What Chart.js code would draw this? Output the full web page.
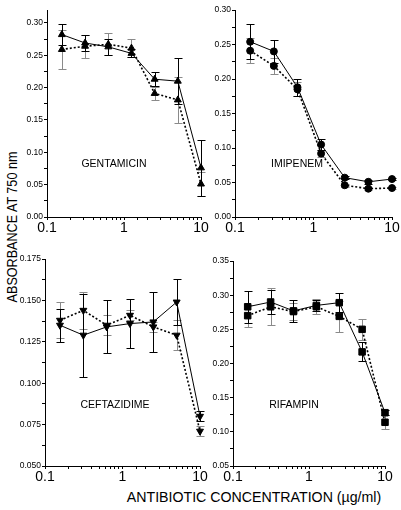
<!DOCTYPE html>
<html>
<head>
<meta charset="utf-8">
<script src="https://cdn.jsdelivr.net/npm/chart.js@4/dist/chart.umd.min.js"></script>
<style>
  html, body { margin: 0; padding: 0; background: #fff; }
  body { width: 401px; height: 510px; position: relative; overflow: hidden; font-family: "Liberation Sans", Arial, sans-serif; }
  canvas { position: absolute; }
  .lbl { position: absolute; color: #000; white-space: nowrap; transform: translate(-50%, -50%); font-size: 10.5px; }
  #ytitle { position: absolute; left: 12px; top: 227px; font-size: 14px; white-space: nowrap; transform: translate(-50%, -50%) rotate(-90deg) scaleX(0.9); }
  #xtitle { position: absolute; left: 254px; top: 496px; font-size: 15px; white-space: nowrap; transform: translate(-50%, -50%) scaleX(0.945); }
</style>
</head>
<body>
<div id="ytitle">ABSORBANCE AT 750 nm</div>
<div id="xtitle">ANTIBIOTIC CONCENTRATION (µg/ml)</div>
<script>
// concentrations (µg/ml), two-fold dilutions
const conc = [0.156, 0.3125, 0.625, 1.25, 2.5, 5, 10];

// GENTAMICIN
const gentSolid = [0.282, 0.269, 0.263, 0.253, 0.213, 0.210, 0.076];
const gentSolidErr = [0.016, 0.013, 0.012, 0.006, 0.011, 0.036, 0.043];
const gentDot = [0.259, 0.264, 0.267, 0.261, 0.191, 0.181, 0.051];
const gentDotErr = [0.030, 0.018, 0.017, 0.014, 0.010, 0.036, 0.018];

// IMIPENEM
const imiSolid = [0.254, 0.240, 0.188, 0.105, 0.057, 0.051, 0.055];
const imiSolidErr = [0.025, 0.017, 0.012, 0.008, 0.002, 0.003, 0.002];
const imiDot = [0.241, 0.219, 0.185, 0.092, 0.046, 0.041, 0.042];
const imiDotErr = [0.018, 0.012, 0.010, 0.005, 0.002, 0.002, 0.002];

// CEFTAZIDIME
const cefSolid = [0.135, 0.129, 0.134, 0.136, 0.137, 0.149, 0.080];
const cefSolidErr = [0.010, 0.025, 0.016, 0.015, 0.018, 0.014, 0.003];
const cefDot = [0.138, 0.144, 0.135, 0.141, 0.134, 0.129, 0.071];
const cefDotErr = [0.011, 0.011, 0.006, 0.003, 0.003, 0.009, 0.003];

// RIFAMPIN
const rifSolid = [0.283, 0.290, 0.277, 0.285, 0.289, 0.217, 0.128];
const rifSolidErr = [0.023, 0.018, 0.016, 0.008, 0.014, 0.014, 0.004];
const rifDot = [0.270, 0.283, 0.276, 0.283, 0.269, 0.250, 0.114];
const rifDotErr = [0.016, 0.027, 0.013, 0.011, 0.023, 0.015, 0.010];

const FONT = '"Liberation Sans", Arial, sans-serif';
const YW = 40, XH = 24, PT = 8, PR = 10;

// error bars drawn from the chart's own scales
const errorBars = {
  id: 'errorBars',
  beforeDatasetsDraw(chart) {
    const { ctx, scales: { x, y } } = chart;
    chart.data.datasets.forEach((ds) => {
      if (!ds.err) return;
      ctx.save();
      ctx.strokeStyle = ds.errColor; ctx.lineWidth = 1; ctx.setLineDash([]);
      ds.data.forEach((p, i) => {
        const px = Math.round(x.getPixelForValue(p.x)) + 0.5;
        const top = Math.round(y.getPixelForValue(p.y + ds.err[i])) + 0.5;
        const bot = Math.round(y.getPixelForValue(p.y - ds.err[i])) + 0.5;
        ctx.beginPath();
        ctx.moveTo(px, top); ctx.lineTo(px, bot);
        ctx.moveTo(px - 4, top); ctx.lineTo(px + 4, top);
        ctx.moveTo(px - 4, bot); ctx.lineTo(px + 4, bot);
        ctx.stroke();
      });
      ctx.restore();
    });
  },
};

const pts = (ys) => conc.map((c, i) => ({ x: c, y: ys[i] }));

function series(ys, err, dotted, style, radius, rot) {
  return {
    data: pts(ys), err, errColor: dotted ? '#8a8a8a' : '#000',
    borderColor: '#000', backgroundColor: '#000',
    borderWidth: dotted ? 1.6 : 1, borderDash: dotted ? [2, 2] : [],
    pointStyle: style, pointRadius: radius, pointRotation: rot || 0,
    pointBorderWidth: 1, tension: 0, clip: false,
  };
}

function panel(area, ymin, ymax, ylabMax, step, dec, datasets, label, lx, ly) {
  const cv = document.createElement('canvas');
  const w = area.r - area.l + YW + PR, h = area.b - area.t + PT + XH;
  cv.width = w; cv.height = h;
  cv.style.left = (area.l - YW) + 'px'; cv.style.top = (area.t - PT) + 'px';
  cv.style.width = w + 'px'; cv.style.height = h + 'px';
  document.body.appendChild(cv);
  new Chart(cv, {
    type: 'line',
    data: { datasets },
    plugins: [errorBars],
    options: {
      responsive: false, animation: false, devicePixelRatio: 1,
      layout: { padding: { top: PT, right: PR, left: 0, bottom: 0 } },
      plugins: { legend: { display: false }, tooltip: { enabled: false } },
      scales: {
        x: {
          type: 'logarithmic', min: 0.1, max: 10,
          afterFit: (s) => { s.height = XH; },
          border: { display: true, color: '#000', width: 1 },
          grid: { drawOnChartArea: false, color: '#000', tickLength: 3 },
          ticks: {
            autoSkip: false, maxRotation: 0, minRotation: 0, padding: 0,
            color: '#000', font: { family: FONT, size: 14 },
            callback: (v) => {
              const l = Math.log10(v);
              if (Math.abs(l - Math.round(l)) > 1e-6) return '';
              return v < 1 ? '0.1' : String(Math.round(v));
            },
          },
        },
        y: {
          min: ymin, max: ymax,
          afterFit: (s) => { s.width = YW; },
          afterBuildTicks: (s) => { s.ticks = s.ticks.filter((t) => t.value <= ylabMax + 1e-9); },
          border: { display: true, color: '#000', width: 1 },
          grid: { drawOnChartArea: false, color: '#000', tickLength: 3 },
          ticks: {
            stepSize: step / 2, autoSkip: false, padding: 1,
            color: '#000', font: { family: FONT, size: 8.5 },
            callback: (v, i) => (i % 2 === 0 ? v.toFixed(dec) : ''),
          },
        },
      },
    },
  });
  const d = document.createElement('div');
  d.className = 'lbl'; d.textContent = label;
  d.style.left = lx + 'px'; d.style.top = ly + 'px';
  document.body.appendChild(d);
}

panel({ l: 47, t: 10, r: 201, b: 217 }, 0, 0.32, 0.30, 0.05, 2,
  [series(gentDot, gentDotErr, true, 'triangle', 4), series(gentSolid, gentSolidErr, false, 'triangle', 4)],
  'GENTAMICIN', 114, 163);
panel({ l: 235, t: 10, r: 392, b: 217 }, 0, 0.30, 0.30, 0.05, 2,
  [series(imiDot, imiDotErr, true, 'circle', 3.5), series(imiSolid, imiSolidErr, false, 'circle', 3.5)],
  'IMIPENEM', 297, 163);
panel({ l: 45, t: 259, r: 200, b: 466 }, 0.05, 0.175, 0.175, 0.025, 3,
  [series(cefDot, cefDotErr, true, 'triangle', 4, 180), series(cefSolid, cefSolidErr, false, 'triangle', 4, 180)],
  'CEFTAZIDIME', 115, 404);
panel({ l: 233, t: 261, r: 385, b: 466 }, 0.05, 0.35, 0.35, 0.05, 2,
  [series(rifDot, rifDotErr, true, 'rect', 4.6), series(rifSolid, rifSolidErr, false, 'rect', 4.6)],
  'RIFAMPIN', 294, 404);
</script>
</body>
</html>
